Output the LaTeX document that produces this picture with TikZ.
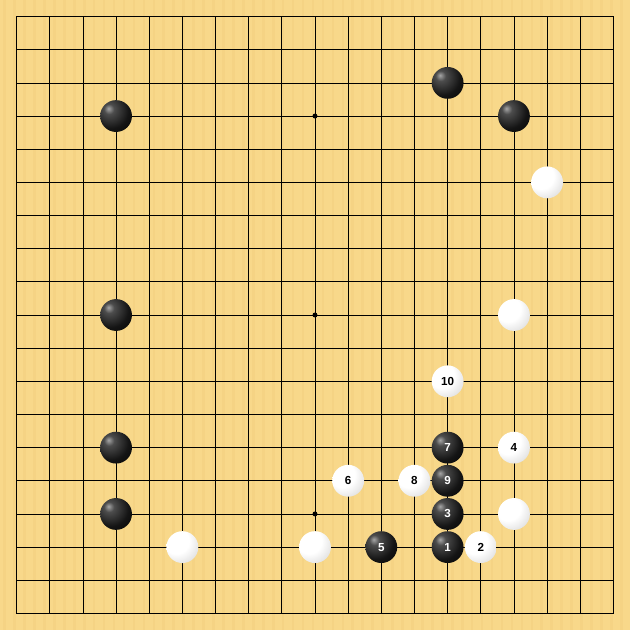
\documentclass[tikz,border=0pt]{standalone}
\usepackage{fontspec}
\setsansfont{Liberation Sans}
\usetikzlibrary{shapes}

\definecolor{boardwood}{RGB}{248,216,138}
\definecolor{boardstripe}{RGB}{240,204,122}

\pgfdeclareradialshading{blackshade}{\pgfpoint{-12bp}{12bp}}{%
  color(0bp)=(black!35); color(8bp)=(black!70); color(28bp)=(black!92); color(50bp)=(black); color(100bp)=(black)}
\pgfdeclareradialshading{whiteshade}{\pgfpoint{-12bp}{12bp}}{%
  color(0bp)=(white); color(20bp)=(white); color(40bp)=(black!14); color(60bp)=(black!45); color(100bp)=(black!45)}

\tikzset{
  blackstone/.style={circle, inner sep=0, minimum size=0.96cm, shading=blackshade, text=white, font=\sffamily\bfseries\fontsize{10}{10}\selectfont},
  whitestone/.style={circle, inner sep=0, minimum size=0.96cm, shading=whiteshade, text=black, font=\sffamily\bfseries\fontsize{10}{10}\selectfont},
  hoshi/.style={circle, fill=black, inner sep=0, minimum size=0.15cm}
}

\begin{document}
\begin{tikzpicture}[x=1cm, y=-1cm]
% Board
\fill[boardwood] (-0.5,-0.5) rectangle (18.5,18.5);
\foreach \s in {-0.4,-0.1,...,18.4} {
  \fill[boardstripe, opacity=0.35] (\s,-0.5) rectangle (\s+0.08,18.5);
}
\useasboundingbox (-0.5,-0.5) rectangle (18.5,18.5);
% Grid
\foreach \i in {1,...,17} {
  \draw[line width=0.6pt] (\i,0) -- (\i,18);
  \draw[line width=0.6pt] (0,\i) -- (18,\i);
}
\draw[line width=1.2pt] (0,0) rectangle (18,18);
% Star points
\node[hoshi] (h1) at (9,3) {};
\node[hoshi] (h2) at (9,9) {};
\node[hoshi] (h3) at (9,15) {};
% Black stones
\node[blackstone] (bA) at (13,2) {};
\node[blackstone] (bB) at (3,3) {};
\node[blackstone] (bC) at (15,3) {};
\node[blackstone] (bD) at (3,9) {};
\node[blackstone] (bE) at (3,13) {};
\node[blackstone] (bF) at (3,15) {};
\node[blackstone] (b1) at (13,16) {1};
\node[blackstone] (b3) at (13,15) {3};
\node[blackstone] (b5) at (11,16) {5};
\node[blackstone] (b7) at (13,13) {7};
\node[blackstone] (b9) at (13,14) {9};
% White stones
\node[whitestone] (wA) at (16,5) {};
\node[whitestone] (wB) at (15,9) {};
\node[whitestone] (wC) at (15,15) {};
\node[whitestone] (wD) at (5,16) {};
\node[whitestone] (wE) at (9,16) {};
\node[whitestone] (w2) at (14,16) {2};
\node[whitestone] (w4) at (15,13) {4};
\node[whitestone] (w6) at (10,14) {6};
\node[whitestone] (w8) at (12,14) {8};
\node[whitestone] (w10) at (13,11) {10};
\end{tikzpicture}
\end{document}
